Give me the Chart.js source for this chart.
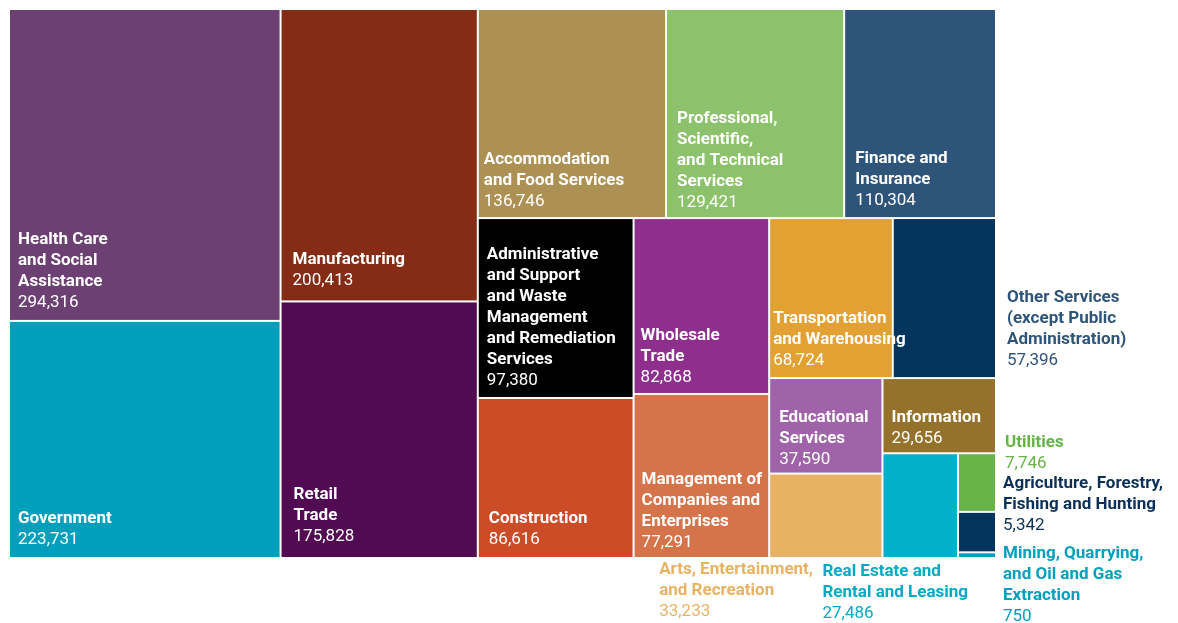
<!DOCTYPE html>
<html>
<head>
<meta charset="utf-8">
<script src="https://cdn.jsdelivr.net/npm/chart.js@4.4.0/dist/chart.umd.min.js"></script>
<style>
  html, body { margin: 0; padding: 0; background: #fff; }
  #wrap { width: 1178px; height: 623px; position: relative; }
</style>
</head>
<body>
<div id="wrap"><canvas id="treemap"></canvas></div>
<script>
// Employment by industry
var industries = [
  'Health Care and Social Assistance', 'Government', 'Manufacturing', 'Retail Trade',
  'Accommodation and Food Services', 'Professional, Scientific, and Technical Services',
  'Finance and Insurance', 'Administrative and Support and Waste Management and Remediation Services',
  'Construction', 'Wholesale Trade', 'Management of Companies and Enterprises',
  'Transportation and Warehousing', 'Other Services (except Public Administration)',
  'Educational Services', 'Arts, Entertainment, and Recreation', 'Information',
  'Real Estate and Rental and Leasing', 'Utilities', 'Agriculture, Forestry, Fishing and Hunting',
  'Mining, Quarrying, and Oil and Gas Extraction'
];
var employees = [294316, 223731, 200413, 175828, 136746, 129421, 110304, 97380, 86616, 82868,
                 77291, 68724, 57396, 37590, 33233, 29656, 27486, 7746, 5342, 750];

// how the names are broken into lines
var labelLines = [
  ['Health Care', 'and Social', 'Assistance'],
  ['Government'],
  ['Manufacturing'],
  ['Retail', 'Trade'],
  ['Accommodation', 'and Food Services'],
  ['Professional,', 'Scientific,', 'and Technical', 'Services'],
  ['Finance and', 'Insurance'],
  ['Administrative', 'and Support', 'and Waste', 'Management', 'and Remediation', 'Services'],
  ['Construction'],
  ['Wholesale', 'Trade'],
  ['Management of', 'Companies and', 'Enterprises'],
  ['Transportation', 'and Warehousing'],
  ['Other Services', '(except Public', 'Administration)'],
  ['Educational', 'Services'],
  ['Arts, Entertainment,', 'and Recreation'],
  ['Information'],
  ['Real Estate and', 'Rental and Leasing'],
  ['Utilities'],
  ['Agriculture, Forestry,', 'Fishing and Hunting'],
  ['Mining, Quarrying,', 'and Oil and Gas', 'Extraction']
];

var fillColors = ['#6d4073', '#00a0bd', '#842c16', '#520a52', '#ad9154', '#8cc26c', '#2e5479',
                  '#000000', '#cc4c27', '#8e2f8e', '#d5744a', '#e3a134', '#03345c', '#a062a8',
                  '#e8b264', '#94722b', '#00b0ca', '#66b446', '#03345c', '#00a0bd'];

// label placement: 'in' = inside, bottom-left; 'right' = beside the cell; 'below' = under the cell
var labelPlace = [
  {mode: 'in', dx: 8, db: 17}, {mode: 'in', dx: 8, db: 17}, {mode: 'in', dx: 11, db: 20},
  {mode: 'in', dx: 12, db: 20}, {mode: 'in', dx: 5, db: 15}, {mode: 'in', dx: 10, db: 14},
  {mode: 'in', dx: 10, db: 16}, {mode: 'in', dx: 8, db: 16}, {mode: 'in', dx: 10, db: 17},
  {mode: 'in', dx: 6, db: 15}, {mode: 'in', dx: 7, db: 14}, {mode: 'in', dx: 3, db: 16},
  {mode: 'right', dx: 12, dy: 79, color: '#2e5479'},
  {mode: 'in', dx: 9, db: 13},
  {mode: 'below', dx: -111, dy: 13, color: '#e8b264'},
  {mode: 'in', dx: 8, db: 14},
  {mode: 'below', dx: -61, dy: 15, color: '#00aac5'},
  {mode: 'right', dx: 10, dy: -12, color: '#66b446'},
  {mode: 'right', dx: 8, dy: -29, color: '#0c2f57'},
  {mode: 'right', dx: 8, dy: 0, color: '#00a0bd'}
];

// squarified layout (classic, target aspect ratio 1)
function squarify(values, x0, y0, x1, y1) {
  var ratio = 1;
  var rects = [];
  var value = values.reduce(function(a, b) { return a + b; }, 0);
  var i0 = 0, i1 = 0, n = values.length;
  while (i0 < n) {
    var dx = x1 - x0, dy = y1 - y0;
    var sumValue = values[i1++];
    var minValue = sumValue, maxValue = sumValue;
    var alpha = Math.max(dy / dx, dx / dy) / (value * ratio);
    var beta = sumValue * sumValue * alpha;
    var minRatio = Math.max(maxValue / beta, beta / minValue);
    for (; i1 < n; ++i1) {
      var v = values[i1];
      sumValue += v;
      if (v < minValue) minValue = v;
      if (v > maxValue) maxValue = v;
      beta = sumValue * sumValue * alpha;
      var newRatio = Math.max(maxValue / beta, beta / minValue);
      if (newRatio > minRatio) { sumValue -= v; break; }
      minRatio = newRatio;
    }
    var i;
    if (dx < dy) {
      var ny = y0 + dy * sumValue / value, cx = x0;
      for (i = i0; i < i1; i++) {
        var w = dx * values[i] / sumValue;
        rects[i] = {x0: cx, y0: y0, x1: cx + w, y1: ny};
        cx += w;
      }
      y0 = ny;
    } else {
      var nx = x0 + dx * sumValue / value, cy = y0;
      for (i = i0; i < i1; i++) {
        var h = dy * values[i] / sumValue;
        rects[i] = {x0: x0, y0: cy, x1: nx, y1: cy + h};
        cy += h;
      }
      x0 = nx;
    }
    value -= sumValue;
    i0 = i1;
  }
  return rects;
}

var FONT = 'Roboto, "Noto Sans", sans-serif';
var LINE = 21;

var treemapPlugin = {
  id: 'treemap',
  afterDatasetsDraw: function(chart) {
    var ctx = chart.ctx, area = chart.chartArea;
    var xs = chart.scales.x, ys = chart.scales.y;
    var aw = area.right - area.left, ah = area.bottom - area.top;
    // layout in unit space keeping the area's aspect
    var rects = squarify(employees, 0, 0, aw, ah);
    var boxes = rects.map(function(r) {
      return {
        left: xs.getPixelForValue(r.x0 / aw) + 1,
        right: xs.getPixelForValue(r.x1 / aw) - 1,
        top: ys.getPixelForValue(r.y0 / ah) + 1,
        bottom: ys.getPixelForValue(r.y1 / ah) - 1
      };
    });
    ctx.save();
    boxes.forEach(function(b, i) {
      ctx.fillStyle = fillColors[i];
      ctx.fillRect(b.left, b.top, Math.max(b.right - b.left, 0), Math.max(b.bottom - b.top, 0));
    });
    ctx.textBaseline = 'middle';
    ctx.textAlign = 'left';
    boxes.forEach(function(b, i) {
      var p = labelPlace[i], lines = labelLines[i];
      var x, yFirst, color;
      if (p.mode === 'in') {
        x = b.left + p.dx;
        yFirst = b.bottom - p.db - lines.length * LINE;
        color = '#ffffff';
      } else if (p.mode === 'right') {
        x = b.right + p.dx;
        yFirst = b.top + p.dy;
        color = p.color;
      } else {
        x = b.left + p.dx;
        yFirst = b.bottom + p.dy;
        color = p.color;
      }
      ctx.fillStyle = color;
      ctx.font = 'bold 17px ' + FONT;
      lines.forEach(function(t, k) { ctx.fillText(t, x, yFirst + k * LINE); });
      ctx.font = '17px ' + FONT;
      ctx.fillText(employees[i].toLocaleString('en-US'), x, yFirst + lines.length * LINE);
    });
    ctx.restore();
  }
};

var chart = new Chart(document.getElementById('treemap'), {
  type: 'scatter',
  data: { datasets: [{ label: 'Employees', data: [], pointRadius: 0 }] },
  options: {
    responsive: true,
    maintainAspectRatio: false,
    animation: false,
    layout: { padding: { left: 9, top: 9, right: 182, bottom: 65 } },
    plugins: { legend: { display: false }, tooltip: { enabled: false } },
    scales: {
      x: { type: 'linear', min: 0, max: 1, display: false },
      y: { type: 'linear', min: 0, max: 1, reverse: true, display: false }
    }
  },
  plugins: [treemapPlugin]
});
</script>
</body>
</html>
